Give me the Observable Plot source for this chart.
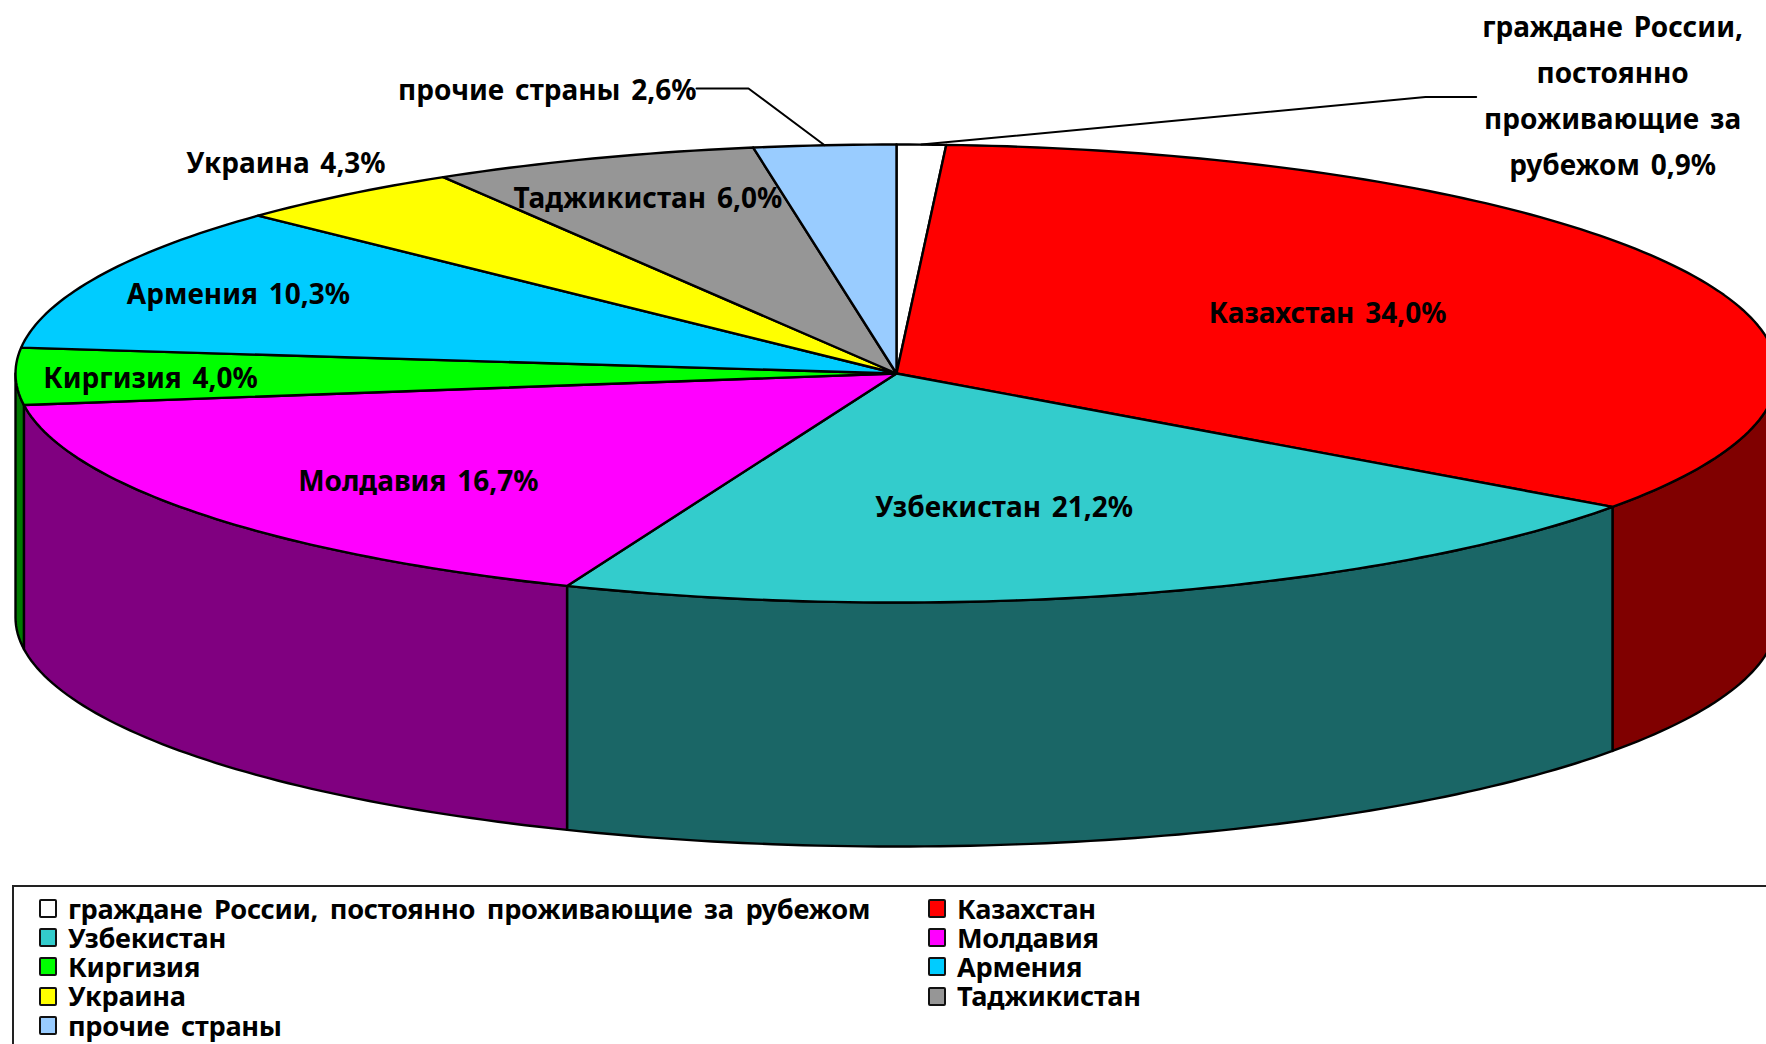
<!DOCTYPE html>
<html lang="ru">
<head>
<meta charset="utf-8">
<style>
  html, body { margin: 0; padding: 0; background: #fff; overflow: hidden; width: 1766px; height: 1044px; }
  svg { display: block; }
  svg text { word-spacing: 3.5px; }
  #legend {
    box-sizing: border-box; margin-left: 12px; width: 1754px; height: 159px;
    border-top: 2px solid #222; border-left: 2px solid #222;
    padding: 6.5px 0 0 25px;
    display: grid; grid-template-columns: 889px 1fr; grid-auto-rows: 29.3px;
    font: 700 27.2px "Noto Sans", sans-serif; color: #000; letter-spacing: -0.3px; word-spacing: 5px;
  }
  .item { display: flex; align-items: center; white-space: nowrap; line-height: 1; }
  .sw { box-sizing: border-box; width: 18px; height: 19px; border: 2px solid #111; border-radius: 2px; margin-right: 11px; flex: none; }
</style>
<script src="https://cdn.jsdelivr.net/npm/d3@7"></script>
<script src="https://cdn.jsdelivr.net/npm/@observablehq/plot@0.6"></script>
</head>
<body>
<div id="chart"></div>
<div id="legend"></div>
<script>
// Data
const names = ["граждане России, постоянно проживающие за рубежом", "Казахстан", "Узбекистан", "Молдавия", "Киргизия", "Армения", "Украина", "Таджикистан", "прочие страны"];
const values = [0.9, 34.0, 21.2, 16.7, 4.0, 10.3, 4.3, 6.0, 2.6];
const labelNames = ["граждане России,\nпостоянно\nпроживающие за\nрубежом", "Казахстан", "Узбекистан", "Молдавия", "Киргизия", "Армения", "Украина", "Таджикистан", "прочие страны"];
const topColors = ["#FFFFFF", "#FF0000", "#33CCCC", "#FF00FF", "#00FF00", "#00CCFF", "#FFFF00", "#969696", "#99CCFF"];
const sideColors = ["#808080", "#800000", "#1A6666", "#800080", "#007A00", "#006680", "#808000", "#4B4B4B", "#4D6680"];

// Layout of the tilted disc, in disc units (1 = rim)
const W = 1766, H = 885;
const rx = 881, ry = 229, cx = 896, cy = 373, depthUnits = 244 / 229;
const labelRadius = [1.4566, 0.555, 0.598, 0.719, 0.847, 0.823, 1.149, 0.815, 1.298];
const labelTurn = [32.3, -2.6, 4.4, -3, -0.8, -0.2, 1.6, -0.1, -13.1];
const leaderOut = [[0.6005, 1.2074], [0.658, 1.2074]];   // callout of slice 0
const leaderOut8 = [[-0.168, 1.2445], [-0.227, 1.2445]]; // callout of slice 8

const arcs = d3.pie().sort(null).value(d => d).startAngle(0).endAngle(2 * Math.PI)(values);
const deg = Math.PI / 180;
const rim = a => ({u: Math.sin(a), v: Math.cos(a)});
const sweep = (a0, a1) => {
  const n = Math.max(2, Math.ceil((a1 - a0) / deg));
  return d3.range(n + 1).map(i => rim(a0 + (a1 - a0) * i / n));
};

const tops = arcs.flatMap((a, i) =>
  [{u: 0, v: 0}, ...sweep(a.startAngle, a.endAngle)].map(p => ({...p, name: names[i]})));

const sides = arcs.flatMap((a, i) => {
  const a0 = Math.max(a.startAngle, Math.PI / 2), a1 = Math.min(a.endAngle, 3 * Math.PI / 2);
  if (a1 <= a0) return [];
  const upper = sweep(a0, a1);
  const lower = upper.slice().reverse().map(p => ({u: p.u, v: p.v - depthUnits}));
  return [...upper, ...lower].map(p => ({...p, name: names[i], shade: sideColors[i]}));
});

const labels = arcs.map((a, i) => {
  const phi = (a.startAngle + a.endAngle) / 2 + labelTurn[i] * deg;
  return {
    u: labelRadius[i] * Math.sin(phi),
    v: labelRadius[i] * Math.cos(phi),
    text: `${labelNames[i]} ${values[i].toFixed(1).replace(".", ",")}%`
  };
});

const mid = a => rim((a.startAngle + a.endAngle) / 2);
const toPts = (arr) => arr.map(([u, v]) => ({u, v}));
const leaders = [
  ...[mid(arcs[0]), ...toPts(leaderOut)].map(p => ({...p, name: "a"})),
  ...[mid(arcs[8]), ...toPts(leaderOut8)].map(p => ({...p, name: "b"}))
];

const plot = Plot.plot({
  width: W, height: H,
  marginTop: 0, marginRight: 0, marginBottom: 0, marginLeft: 0,
  style: {background: "#fff"},
  x: {domain: [-cx / rx, (W - cx) / rx], range: [0, W], axis: null},
  y: {domain: [cy / ry, (cy - H) / ry], range: [0, H], axis: null},
  color: {domain: names, range: topColors, legend: false},
  marks: [
    Plot.line(sides, {x: "u", y: "v", z: "name", fill: "shade", stroke: "#000", strokeWidth: 2.4, curve: "linear-closed", strokeLinejoin: "round"}),
    Plot.line(tops, {x: "u", y: "v", z: "name", fill: "name", stroke: "#000", strokeWidth: 2.4, curve: "linear-closed", strokeLinejoin: "round"}),
    Plot.line(leaders, {x: "u", y: "v", z: "name", stroke: "#000", strokeWidth: 2}),
    Plot.text(labels, {x: "u", y: "v", dy: -5.5, text: "text", fill: "#000", fontSize: 28, fontWeight: 700, fontFamily: "'Noto Sans', sans-serif", lineHeight: 1.65, textAnchor: "middle"})
  ]
});
document.getElementById("chart").append(plot);

const legend = document.getElementById("legend");
names.forEach((n, i) => {
  const item = document.createElement("div");
  item.className = "item";
  const sw = document.createElement("span");
  sw.className = "sw";
  sw.style.background = topColors[i];
  const t = document.createElement("span");
  t.textContent = n;
  item.append(sw, t);
  legend.append(item);
});
</script>
</body>
</html>
